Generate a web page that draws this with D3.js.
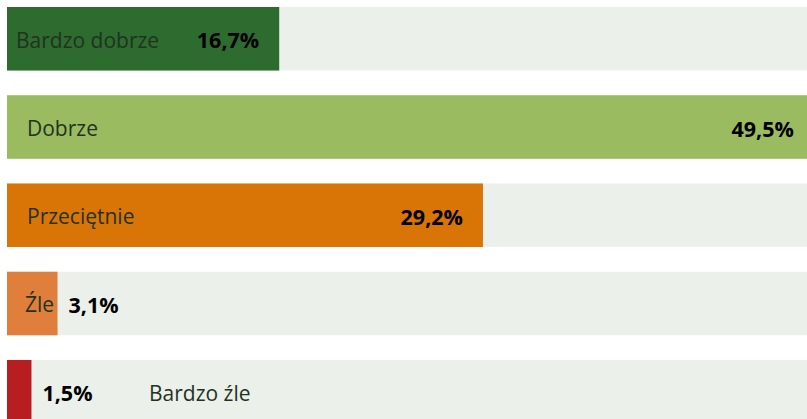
<!DOCTYPE html>
<html>
<head>
<meta charset="utf-8">
<script src="https://cdn.jsdelivr.net/npm/d3@7"></script>
<style>
  body { margin: 0; background: #fff; }
  svg { display: block; }
</style>
</head>
<body>
<div id="chart"></div>
<script>
// data
var categories = ["Bardzo dobrze", "Dobrze", "Przeciętnie", "Źle", "Bardzo źle"];
var values = [16.7, 49.5, 29.2, 3.1, 1.5];
var valueLabels = ["16,7%", "49,5%", "29,2%", "3,1%", "1,5%"];
var colors = ["#2e6b2f", "#9bbb61", "#d97506", "#e07f3c", "#b81d1f"];
var maxValue = 50;

// layout
var W = 807, H = 419;
var colorTrack = "#ecf0eb";
var colorCat = "#1f3320";
var fontFamily = "'Open Sans', 'Liberation Sans', sans-serif";

var svg = d3.select("#chart").append("svg")
    .attr("width", W)
    .attr("height", H);

var x = d3.scaleLinear().domain([0, maxValue]).range([7, 822]);
var y = d3.scaleBand().domain(categories).range([7, 423.5]).paddingInner(0.28).paddingOuter(0);

var rows = svg.selectAll("g.row")
    .data(categories)
    .enter().append("g")
    .attr("class", "row")
    .attr("transform", function(d) { return "translate(0," + y(d) + ")"; });

// background track
rows.append("rect")
    .attr("x", x(0))
    .attr("width", x(maxValue) - x(0))
    .attr("height", y.bandwidth())
    .attr("fill", colorTrack);

// value bar
rows.append("rect")
    .attr("x", x(0))
    .attr("width", function(d, i) { return x(values[i]) - x(0); })
    .attr("height", y.bandwidth())
    .attr("fill", function(d, i) { return colors[i]; });

var mid = y.bandwidth() / 2 + 1;

//Value labels: inside end for wide bars, outside for narrow ones
rows.append("text")
    .text(function(d, i) { return valueLabels[i]; })
    .attr("x", function(d, i) { return values[i] > 10 ? x(values[i]) - 20 : x(values[i]) + 11; })
    .attr("y", mid)
    .attr("dominant-baseline", "central")
    .attr("text-anchor", function(d, i) { return values[i] > 10 ? "end" : "start"; })
    .attr("font-family", fontFamily)
    .attr("font-weight", "bold")
    .attr("font-size", 21.5)
    .attr("fill", "#000");

//Category labels
var catX = [16, 27, 27, 25, 149];
rows.append("text")
    .text(function(d) { return d; })
    .attr("x", function(d, i) { return catX[i]; })
    .attr("y", mid)
    .attr("dominant-baseline", "central")
    .attr("font-family", fontFamily)
    .attr("font-size", 21)
    .attr("fill", colorCat);
</script>
</body>
</html>
